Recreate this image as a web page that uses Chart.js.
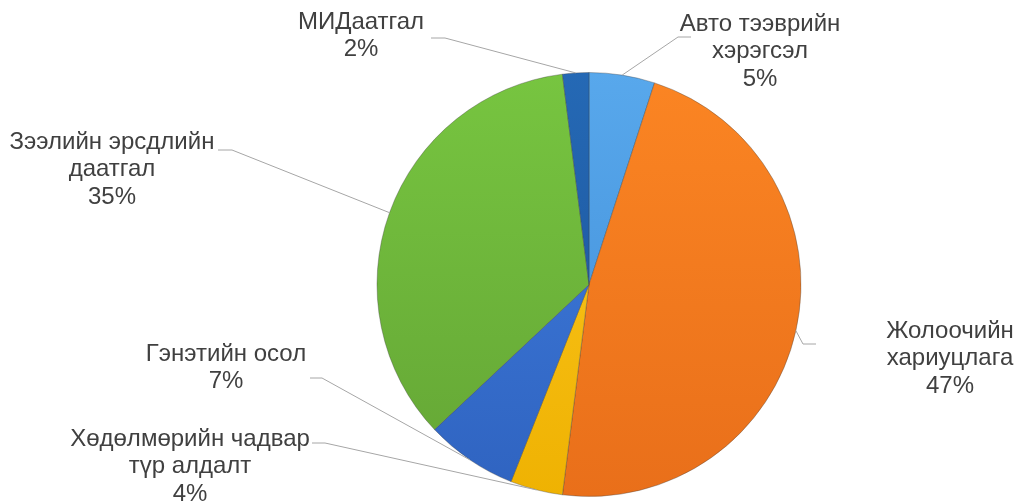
<!DOCTYPE html>
<html>
<head>
<meta charset="utf-8">
<script src="https://cdn.jsdelivr.net/npm/chart.js@4"></script>
<style>
  html, body { margin: 0; padding: 0; background: #fff; }
  #wrap { width: 1019px; height: 503px; }
</style>
</head>
<body>
<div id="wrap"><canvas id="id-canvas" width="1019" height="503"></canvas></div>
<script>
// данные
var categories = ['Авто тээврийн хэрэгсэл', 'Жолоочийн хариуцлага', 'Хөдөлмөрийн чадвар түр алдалт',
                  'Гэнэтийн осол', 'Зээлийн эрсдлийн даатгал', 'МИДаатгал'];
var shares = [5, 47, 4, 7, 35, 2];
var labelLines = [['Авто тээврийн', 'хэрэгсэл'], ['Жолоочийн', 'хариуцлага'], ['Хөдөлмөрийн чадвар', 'түр алдалт'],
                  ['Гэнэтийн осол'], ['Зээлийн эрсдлийн', 'даатгал'], ['МИДаатгал']];
// top / bottom tone of each slice
var colorsTop = ['#58a8ec', '#fb8523', '#fcc822', '#417fe0', '#77c540', '#2569b5'];
var colorsBottom = ['#3f8cd6', '#e96f1a', '#efb202', '#2f63c0', '#64a535', '#1a5197'];

// placement of the labels: text centre x, first line y, elbow point, end of the leader
var labelLayout = [
  { x: 760, y: 24,  elbow: [678, 37],  end: [691, 37] },
  { x: 950, y: 331, elbow: [803, 344], end: [816, 344] },
  { x: 190, y: 439, elbow: [325, 443], end: [312, 443] },
  { x: 226, y: 354, elbow: [322, 378], end: [310, 378] },
  { x: 112, y: 142, elbow: [232, 150], end: [218, 150] },
  { x: 361, y: 22,  elbow: [445, 38],  end: [431, 38] }
];

function sliceFill(context) {
  var i = context.dataIndex;
  var area = context.chart.chartArea;
  if (!area) return colorsTop[i];
  var g = context.chart.ctx.createLinearGradient(0, area.top, 0, area.bottom);
  g.addColorStop(0, colorsTop[i]);
  g.addColorStop(1, colorsBottom[i]);
  return g;
}

var outsideLabels = {
  id: 'outsideLabels',
  afterDraw: function(chart) {
    var ctx = chart.ctx;
    var arcs = chart.getDatasetMeta(0).data;
    ctx.save();
    arcs.forEach(function(arc, i) {
      var mid = (arc.startAngle + arc.endAngle) / 2;
      var sx = arc.x + Math.cos(mid) * arc.outerRadius;
      var sy = arc.y + Math.sin(mid) * arc.outerRadius;
      var L = labelLayout[i];
      ctx.strokeStyle = '#a6a6a6';
      ctx.lineWidth = 1;
      ctx.beginPath();
      ctx.moveTo(sx, sy);
      ctx.lineTo(L.elbow[0], L.elbow[1]);
      ctx.lineTo(L.end[0], L.end[1]);
      ctx.stroke();

      ctx.fillStyle = '#404040';
      ctx.font = '24px "Liberation Sans", Arial, sans-serif';
      ctx.textAlign = 'center';
      ctx.textBaseline = 'middle';
      var lines = labelLines[i].concat([shares[i] + '%']);
      lines.forEach(function(t, k) {
        ctx.fillText(t, L.x, L.y + k * 27.5);
      });
    });
    ctx.restore();
  }
};

(function() {
  var ctx = document.getElementById('id-canvas').getContext('2d');
  window.chart = new Chart(ctx, {
    type: 'pie',
    data: {
      labels: categories,
      datasets: [{
        data: shares,
        backgroundColor: sliceFill,
        borderColor: 'rgba(60,60,60,0.35)',
        borderWidth: 1
      }]
    },
    options: {
      responsive: false,
      animation: false,
      layout: { padding: { top: 72, bottom: 6, left: 159, right: 0 } },
      plugins: {
        legend: { display: false },
        tooltip: { enabled: false }
      }
    },
    plugins: [outsideLabels]
  });
})();
</script>
</body>
</html>
